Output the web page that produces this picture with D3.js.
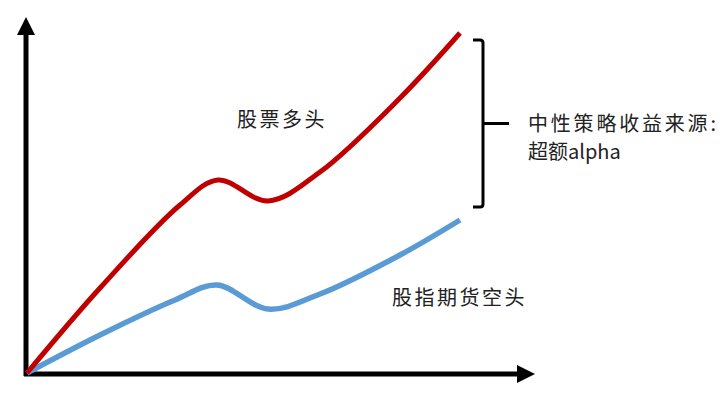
<!DOCTYPE html>
<html><head><meta charset="utf-8">
<script src="https://cdn.jsdelivr.net/npm/d3@7"></script>
<style>body{margin:0;background:#fff}svg{display:block}text{font-family:"Noto Sans CJK SC","Noto Sans",sans-serif;fill:#222}</style>
</head><body>
<script>
const xs = [0, 73, 153, 191, 241, 293, 373, 433];
const stockLong = [0, 85, 168, 193, 172, 201, 275, 340];
const xsB = [0, 73, 148, 190, 241, 293, 373, 433];
const futuresShort = [0, 38, 73, 88, 64, 79, 118, 153];
const labels = {long: "股票多头", short: "股指期货空头", alpha1: "中性策略收益来源:", alpha2: "超额alpha"};

const W = 727, H = 408;
const svg = d3.select("body").append("svg").attr("width", W).attr("height", H);
const x = d3.scaleLinear().domain([0, 433]).range([27, 460]);
const y = d3.scaleLinear().domain([0, 340]).range([373, 33]);

// axes
svg.append("line").attr("x1", 26).attr("y1", 376).attr("x2", 26).attr("y2", 30).attr("stroke", "#000").attr("stroke-width", 5);
svg.append("path").attr("d", "M17,35 L26,17 L35,35 Z").attr("fill", "#000");
svg.append("line").attr("x1", 24).attr("y1", 374).attr("x2", 520).attr("y2", 374).attr("stroke", "#000").attr("stroke-width", 5);
svg.append("path").attr("d", "M517,365 L535,374 L517,383 Z").attr("fill", "#000");

const line = d3.line().curve(d3.curveCatmullRom.alpha(0.5));
svg.append("path").attr("d", line(xsB.map((v, i) => [x(v), y(futuresShort[i])])))
  .attr("fill", "none").attr("stroke", "#5b9bd5").attr("stroke-width", 5.5).attr("stroke-linecap", "butt");
svg.append("path").attr("d", line(xs.map((v, i) => [x(v), y(stockLong[i])])))
  .attr("fill", "none").attr("stroke", "#c00000").attr("stroke-width", 5).attr("stroke-linecap", "butt");

// bracket
svg.append("path").attr("d", "M473,40 L480,40 Q483,40 483,43 L483,204 Q483,207 480,207 L473,207")
  .attr("fill", "none").attr("stroke", "#000").attr("stroke-width", 3);
svg.append("line").attr("x1", 483).attr("y1", 123.5).attr("x2", 509).attr("y2", 123.5).attr("stroke", "#000").attr("stroke-width", 3);

const fs = 20;
svg.append("text").attr("x", 237).attr("y", 127).attr("font-size", fs).attr("letter-spacing", 2.5).text(labels.long);
svg.append("text").attr("x", 392).attr("y", 305).attr("font-size", fs).attr("letter-spacing", 2.5).text(labels.short);
svg.append("text").attr("x", 528).attr("y", 131).attr("font-size", fs).attr("letter-spacing", 2.8).text(labels.alpha1);
svg.append("text").attr("x", 528).attr("y", 159).attr("font-size", fs).text(labels.alpha2);
</script>
</body></html>
